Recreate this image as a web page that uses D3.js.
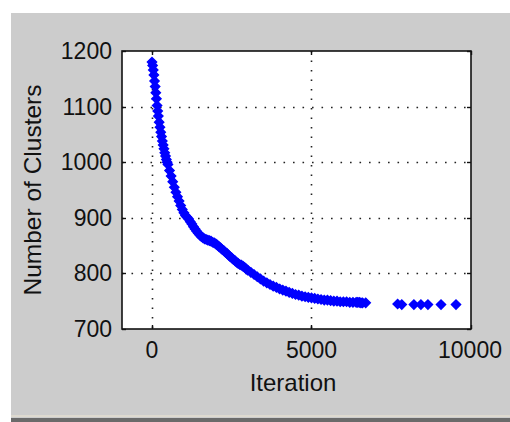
<!DOCTYPE html>
<html>
<head>
<meta charset="utf-8">
<script src="https://cdn.jsdelivr.net/npm/d3@7"></script>
<style>
  body { margin: 0; background: white; }
  svg { display: block; }
  text { font-family: "Liberation Sans", Arial, sans-serif; fill: #111; }
</style>
</head>
<body>
<div id="chart"></div>
<script>
// values
var iterations = [0, 20, 40, 60, 80, 100, 120, 140, 160, 180, 200, 225, 250, 275, 300, 325, 350, 375, 400, 425, 450, 475, 500,
  550, 600, 650, 700, 750, 800, 850, 900, 950, 1000, 1050, 1100, 1150, 1200, 1250, 1300, 1350, 1400, 1450, 1500,
  1550, 1600, 1650, 1700, 1750, 1800, 1850, 1900, 1950, 2000, 2050, 2100, 2150, 2200, 2250, 2300, 2350, 2400,
  2450, 2500, 2550, 2600, 2650, 2700, 2750, 2800, 2850, 2900, 2950, 3000, 3100, 3200, 3300, 3400, 3500, 3600,
  3700, 3800, 3900, 4000, 4100, 4200, 4300, 4400, 4500, 4600, 4700, 4800, 4900, 5000, 5100, 5200, 5300, 5400,
  5500, 5600, 5700, 5800, 5900, 6000, 6100, 6200, 6300, 6400, 6450, 6500, 6550, 6600, 6700,
  7700, 7830, 8210, 8430, 8650, 9060, 9530]
var clusters = [1180, 1174, 1166, 1157, 1146, 1136, 1125, 1114, 1102, 1092, 1083, 1072, 1063, 1054, 1046, 1038, 1031, 1024, 1017, 1011, 1005, 1000, 996,
  985, 975, 965, 955, 946, 938, 930, 922, 915, 909, 904, 901, 898, 893, 889, 884, 880, 876, 872, 869,
  866, 864, 862, 861, 860, 859, 858, 856, 855, 853, 851, 848, 846, 843, 841, 838, 836, 833,
  830, 828, 825, 823, 820, 818, 816, 815, 813, 811, 808, 806, 802, 798, 794, 790, 786, 783,
  780, 777, 775, 772, 770, 768, 766, 764, 762, 761, 759, 758, 757, 756, 755, 754, 753, 752,
  752, 751, 750, 750, 749, 749, 749, 748, 748, 748, 748, 748, 747, 747, 747,
  745, 744, 744, 744, 744, 744, 744]
var xTicks = [0, 5000, 10000]
var yTicks = [700, 800, 900, 1000, 1100, 1200]

var W = 510, H = 422
var PLOT = {LEFT: 122, RIGHT: 471, TOP: 51, BOTTOM: 329}

var svg = d3.select("#chart").append("svg")
  .attr("width", W)
  .attr("height", H)

// figure background
svg.append("rect")
  .attr("x", 11).attr("y", 13)
  .attr("width", W - 11).attr("height", H - 13)
  .style("fill", "#cccccc")
svg.append("rect")
  .attr("x", 11).attr("y", 415)
  .attr("width", W - 11).attr("height", 2)
  .style("fill", "#ddd9cf")
svg.append("rect")
  .attr("x", 11).attr("y", 418)
  .attr("width", W - 11).attr("height", H - 418)
  .style("fill", "#6a6a6a")

var xScale = d3.scaleLinear()
  .domain([-940, 10000])
  .range([PLOT.LEFT, PLOT.RIGHT])

var yScale = d3.scaleLinear()
  .domain([700, 1200])
  .range([PLOT.BOTTOM, PLOT.TOP])

svg.append("rect")
  .attr("x", PLOT.LEFT).attr("y", PLOT.TOP)
  .attr("width", PLOT.RIGHT - PLOT.LEFT).attr("height", PLOT.BOTTOM - PLOT.TOP)
  .style("fill", "white")

// dotted grid
var grid = svg.append("g").attr("class", "grid")
grid.selectAll("line.gx")
  .data(xTicks.filter(function(d){ return xScale(d) < PLOT.RIGHT - 2 }))
  .enter().append("line")
  .attr("class", "gx")
  .attr("x1", function(d){ return Math.round(xScale(d)) + 0.5 })
  .attr("x2", function(d){ return Math.round(xScale(d)) + 0.5 })
  .attr("y1", PLOT.TOP).attr("y2", PLOT.BOTTOM)
grid.selectAll("line.gy")
  .data(yTicks.filter(function(d){ return d > 700 && d < 1200 }))
  .enter().append("line")
  .attr("class", "gy")
  .attr("y1", function(d){ return Math.round(yScale(d)) + 0.5 })
  .attr("y2", function(d){ return Math.round(yScale(d)) + 0.5 })
  .attr("x1", PLOT.LEFT).attr("x2", PLOT.RIGHT)
grid.selectAll("line")
  .style("stroke", "#222")
  .style("stroke-width", 1.6)
  .style("stroke-dasharray", "1.6,7.9")

// markers (diamonds)
var diamond = "M0,-4.6L4.6,0L0,4.6L-4.6,0Z"
svg.append("g")
  .selectAll("path")
  .data(iterations)
  .enter()
  .append("path")
  .attr("d", diamond)
  .attr("transform", function(d, i){ return "translate(" + xScale(d) + "," + yScale(clusters[i]) + ")" })
  .style("fill", "#0000ff")
  .style("stroke", "#0000ff")
  .style("stroke-width", 1.4)

// box and inner ticks
svg.append("rect")
  .attr("x", PLOT.LEFT).attr("y", PLOT.TOP)
  .attr("width", PLOT.RIGHT - PLOT.LEFT).attr("height", PLOT.BOTTOM - PLOT.TOP)
  .style("fill", "none")
  .style("stroke", "#111")
  .style("stroke-width", 1.6)

var ticks = svg.append("g")
xTicks.forEach(function(d){
  var x = Math.round(xScale(d)) + 0.5
  ticks.append("line").attr("x1", x).attr("x2", x).attr("y1", PLOT.BOTTOM).attr("y2", PLOT.BOTTOM - 4)
  ticks.append("line").attr("x1", x).attr("x2", x).attr("y1", PLOT.TOP).attr("y2", PLOT.TOP + 4)
})
yTicks.forEach(function(d){
  var y = Math.round(yScale(d)) + 0.5
  ticks.append("line").attr("y1", y).attr("y2", y).attr("x1", PLOT.LEFT).attr("x2", PLOT.LEFT + 4)
  ticks.append("line").attr("y1", y).attr("y2", y).attr("x1", PLOT.RIGHT).attr("x2", PLOT.RIGHT - 4)
})
ticks.selectAll("line").style("stroke", "#111").style("stroke-width", 1.4)

// tick labels
svg.append("g").selectAll("text")
  .data(xTicks)
  .enter().append("text")
  .attr("x", function(d){ return xScale(d) })
  .attr("y", 358)
  .attr("text-anchor", function(d){ return d == 10000 ? "end" : "middle" })
  .attr("dx", function(d){ return d == 10000 ? 31 : 0 })
  .style("font-size", "23px")
  .text(function(d){ return d })

svg.append("g").selectAll("text")
  .data(yTicks)
  .enter().append("text")
  .attr("x", 112)
  .attr("y", function(d){ return yScale(d) + 8 })
  .attr("text-anchor", "end")
  .style("font-size", "23px")
  .text(function(d){ return d })

// axis titles
svg.append("text")
  .attr("x", 293).attr("y", 391)
  .attr("text-anchor", "middle")
  .style("font-size", "24px")
  .text("Iteration")

svg.append("text")
  .attr("transform", "translate(41," + ((PLOT.TOP + PLOT.BOTTOM) / 2) + ") rotate(-90)")
  .attr("text-anchor", "middle")
  .style("font-size", "24.5px")
  .text("Number of Clusters")
</script>
</body>
</html>
